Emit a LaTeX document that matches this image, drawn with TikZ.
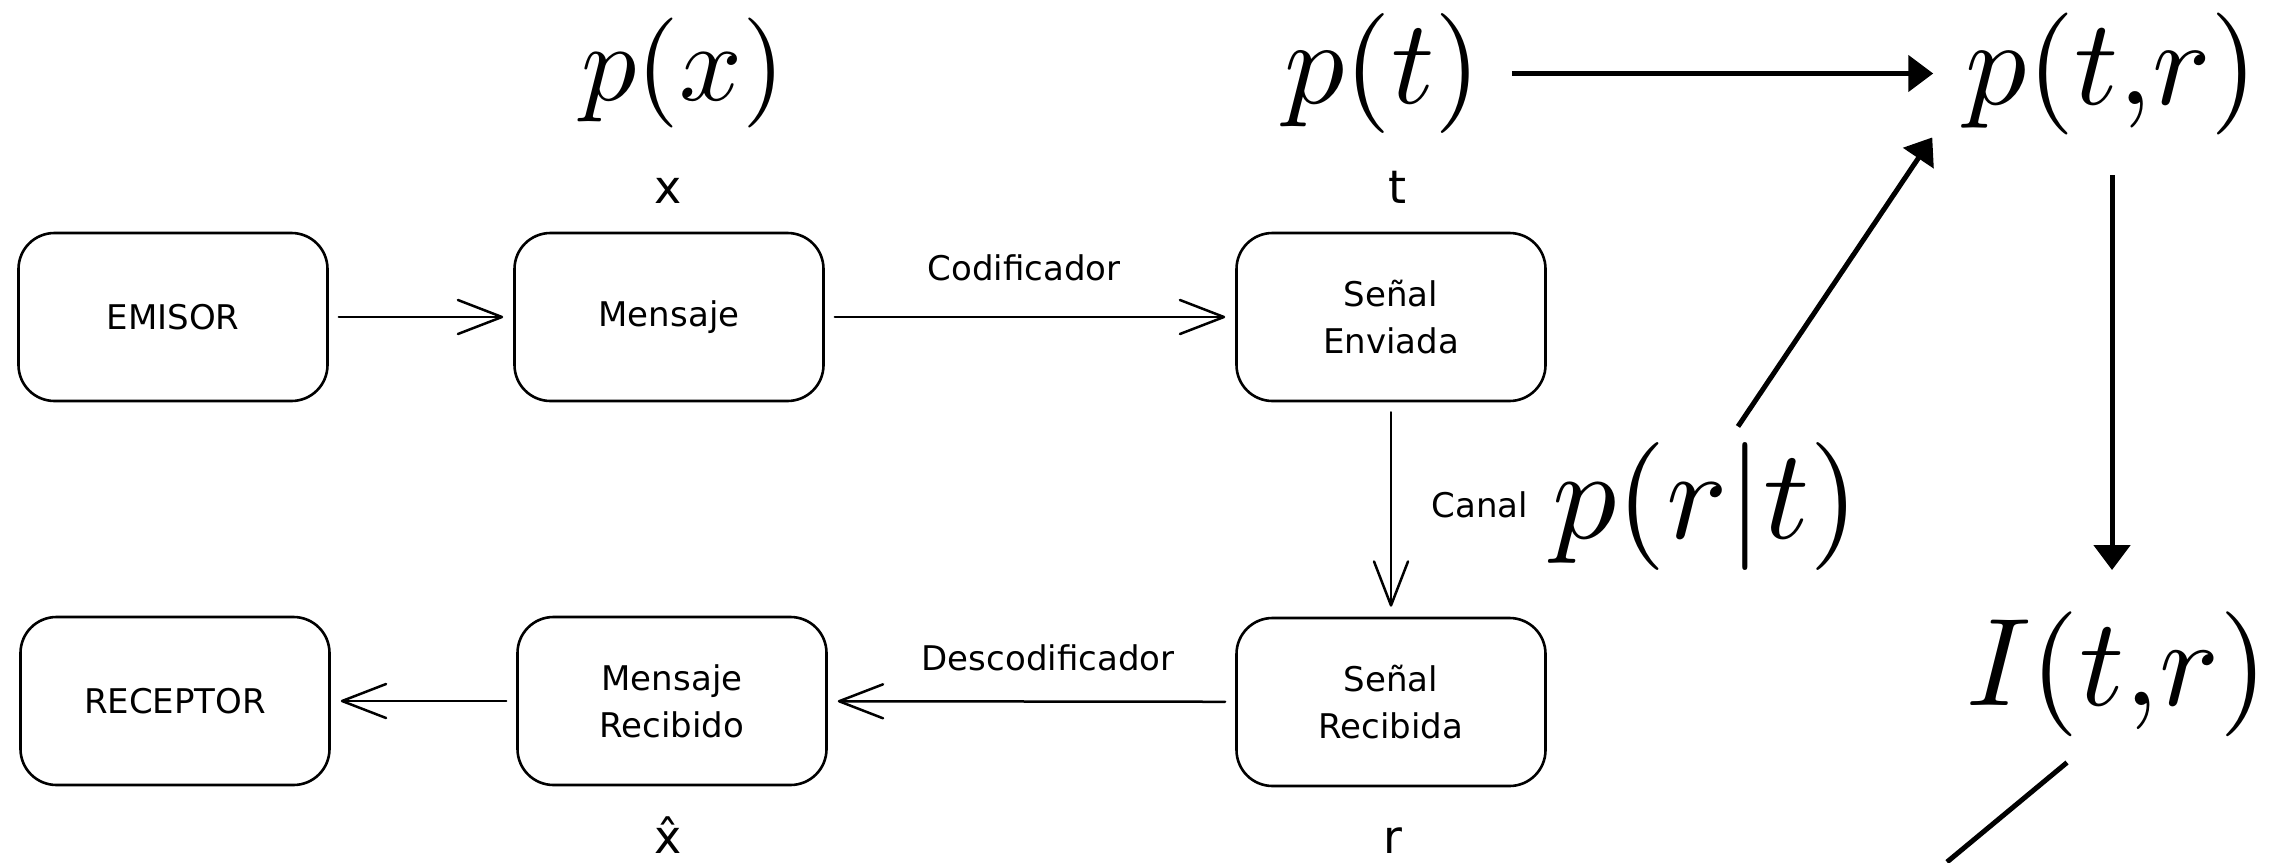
\documentclass[tikz,border=0pt]{standalone}
\usepackage{fontspec}
\setmainfont{DejaVu Sans}
\usetikzlibrary{arrows.meta,calc}
\begin{document}
\begin{tikzpicture}[x=1pt,y=-1pt,
  box/.style={draw, line width=2.6pt, rounded corners=36pt, minimum width=309pt, minimum height=168pt, align=center, font=\fontsize{34}{47}\selectfont, inner sep=0pt},
  flow/.style={line width=2.5pt, -{Straight Barb[length=44pt,width=34pt,line width=2.5pt,round]}, shorten <=10pt, shorten >=10pt, line cap=round},
  lbl/.style={font=\fontsize{34}{40}\selectfont, anchor=base, inner sep=0pt},
  var/.style={font=\fontsize{46}{50}\selectfont, anchor=base, inner sep=0pt},
  big/.style={line width=5pt, -{Triangle[length=25pt,width=36pt]}},
  mth/.style={inner sep=0pt},
]
\fill[white] (0,0) rectangle (2272,862);
\useasboundingbox (0,0) rectangle (2272,862);

% boxes
\node[box] (em) at (173,317) {EMISOR};
\node[box] (ms) at (669,317) {Mensaje};
\node[box] (se) at (1391,317) {Señal\\Enviada};
\node[box] (rc) at (175,701) {RECEPTOR};
\node[box] (mr) at (672,701) {Mensaje\\Recibido};
\node[box] (sr) at (1391,702) {Señal\\Recibida};

% variable labels
\node[var] (lx) at (668,203) {x};
\node[var] (lt) at (1397,203) {t};
\node[var] (lxh) at (668,853) {x\char"0302};
\node[var] (lr) at (1393,853) {r};

% flow arrows
\draw[flow] (em) -- (ms);
\draw[flow] (ms) -- (se);
\draw[flow] (se) -- (sr);
\draw[flow] (sr) -- (mr);
\draw[flow] (mr) -- (rc);

\node[lbl] (cod) at (1024,280) {Codificador};
\node[lbl] (dec) at (1048,670) {Descodificador};
\node[lbl] (can) at (1480,517) {Canal};

% math
\node[mth, scale=11] (px) at (683,72.5) {$p(x)$};
\node[mth, scale=12] (pt) at (1383,73.5) {$p(t)$};
\node[mth, scale=12.2] (ptr) at (2112,74) {$p(t{,}r)$};
\node[mth, scale=12.8] (prt) at (1706,506) {$p(r|t)$};
\node[mth, scale=12.5] (itr) at (2117,674) {$I(t{,}r)$};
\coordinate (iend) at (1947,862);

\draw[big, shorten <=28pt, shorten >=30pt] (pt.east) -- (pt.east -| ptr.west);
\draw[big] ([shift={(32,-13)}]prt.north) -- ([shift={(-31,0)}]ptr.south west);
\draw[big] ([shift={(0,38)}]ptr.south) -- ([shift={(-5,-39)}]itr.north);
\draw[line width=5pt] ([shift={(-50,23.5)}]itr.south) -- (iend);
\end{tikzpicture}
\end{document}
